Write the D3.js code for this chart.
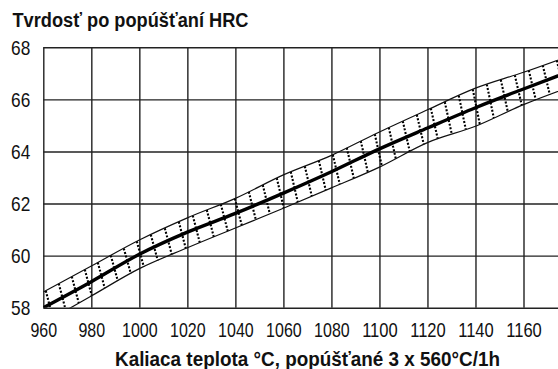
<!DOCTYPE html>
<html>
<head>
<meta charset="utf-8">
<title>Tvrdosť po popúšťaní</title>
<style>
  body {margin:0; background:#fff;}
  svg {display:block; background:#fff;}
  .axis text {font-family:"Liberation Sans", Arial, sans-serif; font-size:21px; fill:#111;}
  .axis line {stroke:#222; stroke-width:1.4px;}
  .axis path {display:none;}
  .ttl {font-family:"Liberation Sans", Arial, sans-serif; font-size:19.5px; font-weight:bold; fill:#111;}
</style>
<script src="https://cdn.jsdelivr.net/npm/d3@7"></script>
</head>
<body>
<svg id="chart" width="558" height="369"></svg>
<script>
// hardening temperature grid and HRC grid
var tempTicks = [960, 980, 1000, 1020, 1040, 1060, 1080, 1100, 1120, 1140, 1160, 1180];
var hrcTicks  = [58, 60, 62, 64, 66, 68];

// middle line and the two edges of the scatter band
var temps    = [960, 980, 1000, 1020, 1040, 1060, 1080, 1100, 1120, 1140, 1160, 1180];
var hrcMid   = [58.0, 59.0, 60.05, 60.9, 61.62, 62.4, 63.22, 64.1, 64.9, 65.68, 66.4, 67.1];
var hrcUpper = [58.6, 59.6, 60.6, 61.45, 62.2, 63.1, 63.85, 64.75, 65.6, 66.43, 67.04, 67.7];
var hrcLower = [57.4, 58.45, 59.5, 60.3, 61.06, 61.82, 62.6, 63.4, 64.34, 64.97, 65.8, 66.5];

var svg = d3.select("#chart");
var plotL = 43.3, plotT = 47.3, plotB = 307.7, plotR = 558;

var x = d3.scaleLinear().domain([960, 1160]).range([plotL, 523.5]);
var y = d3.scaleLinear().domain([58, 68]).range([plotB, plotT]);

svg.append("defs").append("clipPath").attr("id", "plotclip")
   .append("rect").attr("x", plotL).attr("y", plotT)
   .attr("width", plotR - plotL).attr("height", plotB - plotT);

// vertical grid + x labels
var gx = svg.append("g").attr("class", "axis")
  .attr("transform", "translate(0," + plotB + ")")
  .call(d3.axisBottom(x).tickValues(tempTicks)
        .tickSize(-(plotB - plotT)).tickPadding(14)
        .tickFormat(function(d) { return d > 1160 ? "" : d; }));
gx.selectAll("text")
  .attr("textLength", function(d) { return d > 1160 ? null : String(d).length * 8.9; })
  .attr("lengthAdjust", "spacingAndGlyphs");

// horizontal grid + y labels
var gy = svg.append("g").attr("class", "axis")
  .attr("transform", "translate(" + plotL + ",0)")
  .call(d3.axisLeft(y).tickValues(hrcTicks)
        .tickSize(-(plotR - plotL)).tickPadding(13));
gy.selectAll("text")
  .attr("textLength", function(d) { return String(d).length * 9.6; })
  .attr("lengthAdjust", "spacingAndGlyphs");

var band = svg.append("g").attr("clip-path", "url(#plotclip)");

function curveOf(vals) {
  return d3.line()
    .x(function(d, i) { return x(temps[i]); })
    .y(function(d) { return y(d); })
    .curve(d3.curveMonotoneX)(vals);
}

// dotted cross hatching inside the band
var upAt  = d3.scaleLinear().domain(temps).range(hrcUpper);
var lowAt = d3.scaleLinear().domain(temps).range(hrcLower);
var midAt = d3.scaleLinear().domain(temps).range(hrcMid);
var hatchX = [];
var acc = 8, px = plotL, py = y(midAt(x.invert(plotL)));
for (var sx = plotL + 1; sx < plotR + 20; sx += 1) {
  var sy = y(midAt(x.invert(sx)));
  acc += Math.hypot(sx - px, sy - py);
  px = sx; py = sy;
  if (acc >= 14.5) { hatchX.push(sx); acc = 0; }
}
band.selectAll("line.hatch").data(hatchX).enter().append("line")
  .attr("class", "hatch")
  .attr("x1", function(d) { return d - 3.5; })
  .attr("y1", function(d) { return y(upAt(x.invert(d - 3.5))); })
  .attr("x2", function(d) { return d + 3.5; })
  .attr("y2", function(d) { return y(lowAt(x.invert(d + 3.5))); })
  .style("stroke", "#000").style("stroke-width", 2.1)
  .style("stroke-dasharray", "2,1.7");

[hrcUpper, hrcLower].forEach(function(v) {
  band.append("path").attr("d", curveOf(v))
    .style("fill", "none").style("stroke", "#111").style("stroke-width", 1.2);
});
band.append("path").attr("d", curveOf(hrcMid))
  .style("fill", "none").style("stroke", "#000").style("stroke-width", 3.4);

// titles
svg.append("text").attr("class", "ttl")
  .attr("x", 12.5).attr("y", 26.5)
  .attr("textLength", 236).attr("lengthAdjust", "spacingAndGlyphs")
  .text("Tvrdosť po popúšťaní HRC");
svg.append("text").attr("class", "ttl")
  .attr("x", 115).attr("y", 366)
  .attr("textLength", 385).attr("lengthAdjust", "spacingAndGlyphs")
  .text("Kaliaca teplota °C, popúšťané 3 x 560°C/1h");
</script>
</body>
</html>
